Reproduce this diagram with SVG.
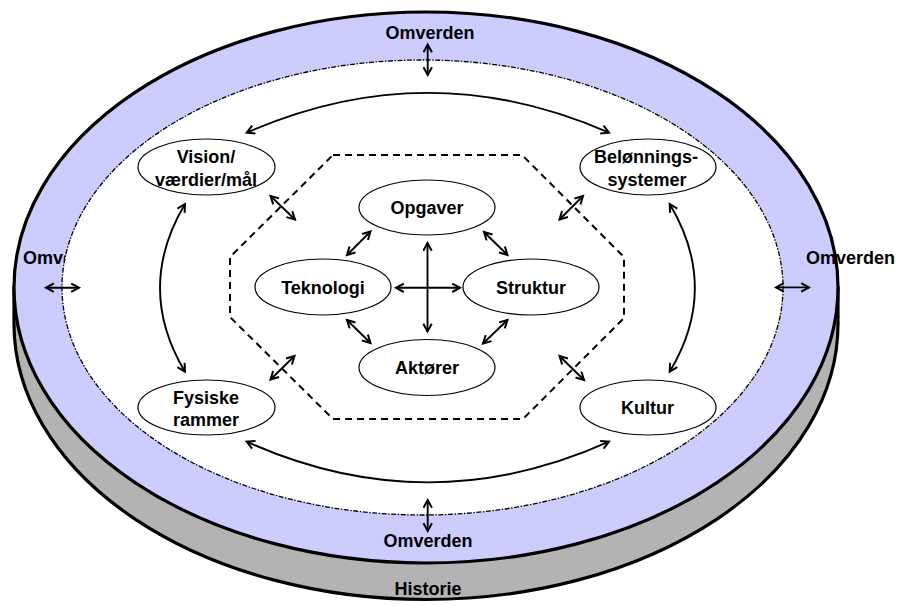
<svg xmlns="http://www.w3.org/2000/svg" width="898" height="606" viewBox="0 0 898 606">
<defs>
<marker id="ah" markerUnits="userSpaceOnUse" markerWidth="12" markerHeight="12" refX="9" refY="5" orient="auto-start-reverse">
<path d="M1.2,0.8 L9,5 L1.2,9.2" fill="none" stroke="#000" stroke-width="2"/>
</marker>
</defs>
<style>
text{font-family:"Liberation Sans",Arial,sans-serif;font-weight:bold;font-size:18px;fill:#000;text-anchor:middle}
text.st{text-anchor:start}
.node ellipse{fill:#fff;stroke:#000;stroke-width:1.2}
.conn path,.conn line{fill:none;stroke:#000;stroke-width:1.9;marker-start:url(#ah);marker-end:url(#ah)}
</style>
<g id="disc">
<path d="M14,287.5 L14,324 A412,275.5 0 0 0 838,324 L838,287.5 Z" fill="#B3B3B3" stroke="#000" stroke-width="3.2"/>
<ellipse cx="426" cy="287.5" rx="412" ry="275.5" fill="#CCCCFF" stroke="#000" stroke-width="3.2"/>
<text class="st" x="23" y="264">Omverden</text>
<ellipse cx="422.5" cy="287.5" rx="360.5" ry="227.5" fill="#fff" stroke="#000" stroke-width="1.3" stroke-dasharray="5 1.5 1.5 1.5"/>
<text x="430" y="39">Omverden</text>
<text x="428" y="547">Omverden</text>
<text x="428" y="595">Historie</text>
<text class="st" x="806" y="264">Omverden</text>
</g>
<g id="core-boundary">
<polygon points="333,155 522,155 624,257 624,318 523,419 333,419 230,317 230,257" fill="none" stroke="#000" stroke-width="2" stroke-dasharray="7 5"/>
</g>
<g id="vision" class="node"><ellipse cx="206.5" cy="167" rx="68.5" ry="28"/><text x="206" y="163">Vision/</text><text x="206" y="185.5">værdier/mål</text></g>
<g id="belonning" class="node"><ellipse cx="648" cy="167" rx="68" ry="28"/><text x="646" y="163">Belønnings-</text><text x="647" y="185.5">systemer</text></g>
<g id="opgaver" class="node"><ellipse cx="427" cy="207.5" rx="68" ry="27.5"/><text x="427" y="213.5">Opgaver</text></g>
<g id="teknologi" class="node"><ellipse cx="323" cy="287" rx="68" ry="28"/><text x="323" y="293.5">Teknologi</text></g>
<g id="struktur" class="node"><ellipse cx="531" cy="287" rx="68" ry="28"/><text x="531" y="293.5">Struktur</text></g>
<g id="aktorer" class="node"><ellipse cx="427" cy="367.5" rx="68" ry="28"/><text x="427" y="373.5">Aktører</text></g>
<g id="fysiske" class="node"><ellipse cx="206.5" cy="407.5" rx="68.5" ry="27.5"/><text x="206" y="404">Fysiske</text><text x="206" y="426">rammer</text></g>
<g id="kultur" class="node"><ellipse cx="648" cy="407.5" rx="68" ry="27.5"/><text x="647.5" y="414">Kultur</text></g>
<g id="connectors" class="conn">
<line x1="427.5" y1="243" x2="427.5" y2="331.5"/>
<line x1="396" y1="287.8" x2="460" y2="287.8"/>
<line x1="347" y1="255" x2="370.5" y2="231.5"/>
<line x1="347" y1="320" x2="370.5" y2="343"/>
<line x1="484" y1="232" x2="507.5" y2="255"/>
<line x1="507.5" y1="320" x2="483" y2="343.5"/>
<line x1="270.5" y1="196" x2="295" y2="219.5"/>
<line x1="583" y1="196" x2="559.5" y2="219.5"/>
<line x1="294.5" y1="356" x2="270.5" y2="379.5"/>
<line x1="559.5" y1="356" x2="584" y2="380"/>
<line x1="427.7" y1="44.5" x2="427.7" y2="75"/>
<line x1="427.7" y1="500" x2="427.7" y2="531"/>
<line x1="46" y1="287.7" x2="79" y2="287.7"/>
<line x1="776" y1="287.4" x2="809" y2="287.4"/>
<path d="M246.7,132.7 Q428,53 609,132.7"/>
<path d="M246.7,441.7 Q428,523 609,441.7"/>
<path d="M185,204 Q135,288 185,371.7"/>
<path d="M669.7,204 Q720,288 669.7,371.7"/>
</g>
</svg>
